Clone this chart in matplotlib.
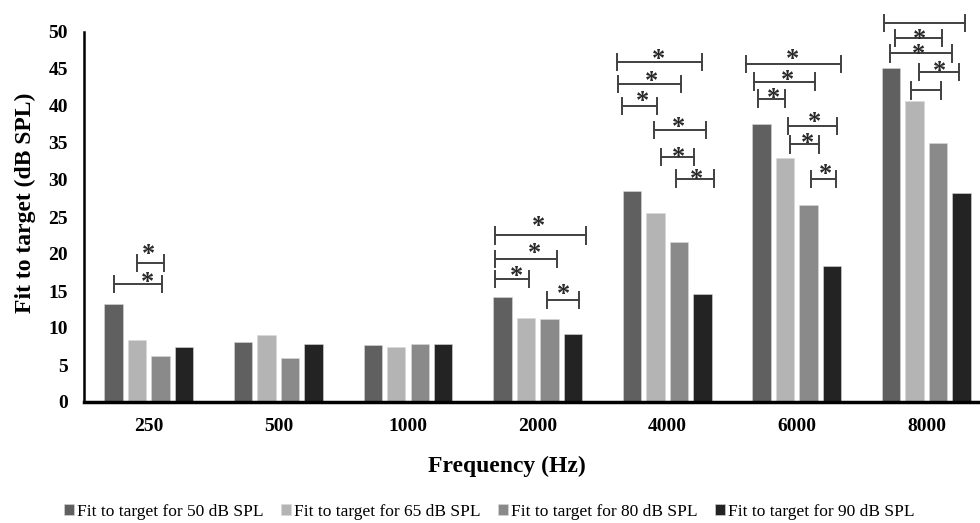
import matplotlib
matplotlib.use('Agg')
import matplotlib.pyplot as plt
import numpy as np

# Fit to target per frequency, one list per input level
freqs = ['250', '500', '1000', '2000', '4000', '6000', '8000']
fit_50 = [13.2, 8.1, 7.7, 14.2, 28.5, 37.6, 45.2]
fit_65 = [8.4, 9.0, 7.4, 11.4, 25.6, 33.0, 40.7]
fit_80 = [6.2, 5.9, 7.8, 11.2, 21.6, 26.6, 35.0]
fit_90 = [7.5, 7.8, 7.8, 9.2, 14.6, 18.4, 28.2]
series_names = ['Fit to target for 50 dB SPL', 'Fit to target for 65 dB SPL',
                'Fit to target for 80 dB SPL', 'Fit to target for 90 dB SPL']

# significance brackets (x in category units, y in dB SPL)
bracket_x0 = [-0.09, -0.27,
              2.67, 2.67, 2.67, 3.07,
              3.61, 3.62, 3.65, 3.90, 3.95, 4.07,
              4.61, 4.67, 4.70, 4.93, 4.95, 5.11,
              5.67, 5.76, 5.72, 5.94, 5.88]
bracket_x1 = [0.12, 0.10,
              3.37, 3.15, 2.93, 3.32,
              4.27, 4.11, 3.92, 4.30, 4.21, 4.36,
              5.34, 5.14, 4.91, 5.31, 5.17, 5.30,
              6.30, 6.12, 6.20, 6.25, 6.11]
bracket_y = [18.8, 15.9,
             22.5, 19.3, 16.6, 13.8,
             45.9, 43.0, 40.0, 36.8, 33.1, 30.2,
             45.7, 43.3, 41.0, 37.3, 34.8, 30.1,
             51.2, 49.2, 47.1, 44.6, 42.1]
star_x = [0.00, -0.01,
          3.01, 2.98, 2.84, 3.20,
          3.93, 3.88, 3.81, 4.09, 4.09, 4.23,
          4.97, 4.93, 4.82, 5.14, 5.08, 5.22,
          None, 5.95, 5.94, 6.10, None]
star_y = [20.7, 17.0,
          24.6, 20.9, 17.8, 15.4,
          47.1, 44.1, 41.4, 37.9, 33.9, 30.9,
          47.1, 44.3, 41.8, 38.6, 35.7, 31.6,
          None, 49.8, 47.8, 45.5, None]

colors = ['#606060', '#b4b4b4', '#8a8a8a', '#232323']
serif = 'Liberation Serif'

fig = plt.figure(figsize=(9.8, 5.23), dpi=100)
ax = fig.add_axes([84 / 980, 121 / 523, 896 / 980, 370 / 523])

x = np.arange(len(freqs))
step = 0.181
width = 0.142
for i, (vals, name) in enumerate(zip([fit_50, fit_65, fit_80, fit_90], series_names)):
    ax.bar(x + (i - 1.5) * step, vals, width, color=colors[i], label=name,
           edgecolor='#d8d8d8', linewidth=0.4)

# brackets and stars
tick_half = 1.1
for x0, x1, y in zip(bracket_x0, bracket_x1, bracket_y):
    ax.plot([x0, x1], [y, y], color='#404040', lw=1.4, clip_on=False)
    ax.plot([x0, x0], [y - tick_half, y + tick_half], color='#404040', lw=1.4, clip_on=False)
    ax.plot([x1, x1], [y - tick_half, y + tick_half], color='#404040', lw=1.4, clip_on=False)
star_size = 19
for sx, sy in zip(star_x, star_y):
    if sx is None:
        continue
    ax.annotate('*', (sx, sy), xytext=(0, -0.48 * star_size), textcoords='offset points',
                ha='center', va='baseline', fontsize=star_size, fontweight='bold',
                family=serif, color='#2a2a2a', annotation_clip=False)

ax.set_xlim(-0.5, (980 - 148.8) / 129.6)
ax.set_ylim(0, 50)
ax.set_yticks(np.arange(0, 51, 5))
ax.set_xticks(x)
ax.set_xticklabels(freqs)
for lab in ax.get_xticklabels() + ax.get_yticklabels():
    lab.set_family(serif)
    lab.set_fontweight('bold')
    lab.set_fontsize(14)
ax.tick_params(axis='both', length=0, pad=11.5)

for s in ['top', 'right']:
    ax.spines[s].set_visible(False)
ax.spines['left'].set_linewidth(1.8)
ax.spines['bottom'].set_linewidth(2.5)
ax.spines['left'].set_color('black')
ax.spines['bottom'].set_color('black')

fig.text(25 / 980, 1 - 203 / 523, 'Fit to target (dB SPL)', rotation=90,
         ha='center', va='center', family=serif, fontweight='bold', fontsize=17)
fig.text(507 / 980, 1 - 466 / 523, 'Frequency (Hz)', ha='center', va='center',
         family=serif, fontweight='bold', fontsize=17)

fig.legend(loc='center', bbox_to_anchor=(489 / 980, 1 - 512 / 523), ncol=4,
           frameon=False, prop={'family': serif, 'size': 12.5},
           handlelength=0.6, handleheight=0.6, handletextpad=0.15,
           columnspacing=1.0, borderpad=0)

fig.savefig('out.png', dpi=100)
